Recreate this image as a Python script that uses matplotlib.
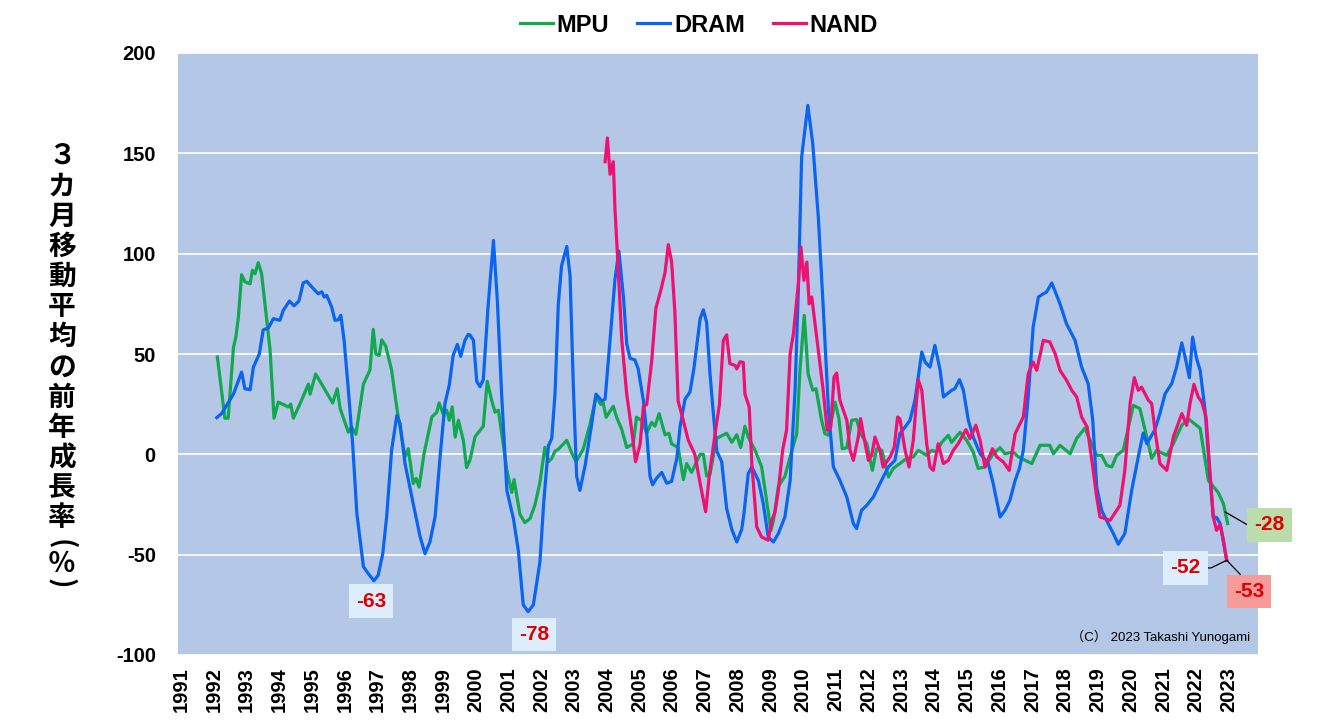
import matplotlib
matplotlib.use("Agg")
import matplotlib.pyplot as plt

# ---- data ----
years = list(range(1991, 2024))

mpu_year = [1992.11, 1992.34, 1992.44, 1992.60, 1992.68, 1992.75, 1992.85, 1992.95, 1993.11, 1993.18,
            1993.26, 1993.36, 1993.46, 1993.72, 1993.84, 1993.97, 1994.28, 1994.35, 1994.43, 1994.63,
            1994.89, 1994.94, 1995.11, 1995.35, 1995.63, 1995.77, 1995.86, 1996.11, 1996.21, 1996.34,
            1996.57, 1996.77, 1996.87, 1996.95, 1997.05, 1997.13, 1997.25, 1997.43, 1997.60, 1997.84,
            1997.94, 1998.09, 1998.18, 1998.27, 1998.42, 1998.66, 1998.81, 1998.88, 1999.01, 1999.11,
            1999.19, 1999.28, 1999.37, 1999.47, 1999.62, 1999.72, 1999.82, 1999.98, 2000.23, 2000.35,
            2000.49, 2000.59, 2000.69, 2000.84, 2000.95, 2001.10, 2001.17, 2001.35, 2001.50, 2001.66,
            2001.81, 2001.96, 2002.11, 2002.22, 2002.32, 2002.42, 2002.52, 2002.78, 2002.93, 2003.06,
            2003.28, 2003.49, 2003.67, 2003.82, 2003.89, 2003.98, 2004.08, 2004.20, 2004.30, 2004.46,
            2004.61, 2004.81, 2004.91, 2005.07, 2005.22, 2005.37, 2005.47, 2005.60, 2005.78, 2005.90,
            2005.98, 2006.18, 2006.34, 2006.44, 2006.59, 2006.85, 2006.95, 2007.05, 2007.15, 2007.36,
            2007.66, 2007.82, 2007.97, 2008.09, 2008.22, 2008.32, 2008.53, 2008.73, 2008.88, 2009.01,
            2009.09, 2009.24, 2009.44, 2009.60, 2009.80, 2009.90, 2010.03, 2010.15, 2010.29, 2010.39,
            2010.56, 2010.66, 2010.77, 2010.97, 2011.09, 2011.19, 2011.33, 2011.48, 2011.63, 2011.75,
            2011.94, 2012.11, 2012.24, 2012.40, 2012.60, 2012.75, 2012.95, 2013.16, 2013.36, 2013.51,
            2013.77, 2013.92, 2014.07, 2014.23, 2014.43, 2014.53, 2014.79, 2014.99, 2015.19, 2015.34,
            2015.55, 2015.80, 2016.01, 2016.16, 2016.41, 2016.57, 2016.98, 2017.23, 2017.53, 2017.64,
            2017.84, 2018.15, 2018.35, 2018.60, 2018.96, 2019.11, 2019.27, 2019.42, 2019.57, 2019.77,
            2020.08, 2020.28, 2020.44, 2020.64, 2020.79, 2021.10, 2021.30, 2021.56, 2021.76, 2021.81,
            2022.12, 2022.37, 2022.67, 2022.83, 2022.96]
mpu_val = [48.5, 18, 18, 53, 59, 68, 89.5, 86, 85, 91.7,
           90, 95.5, 90, 52, 18, 26, 23.6, 25, 18, 25,
           35, 30, 40, 33.5, 25.6, 32.7, 22.8, 11, 13.6, 10,
           35, 42, 62.3, 50, 49.3, 57, 54, 42, 22, -1.3,
           2.8, -14.6, -12, -16.3, 0.3, 18.6, 21, 25.6, 20, 22,
           17, 23.6, 8.6, 17, 7, -6.6, -3, 8.8, 14, 36.4,
           26.6, 21, 22, 5, -8, -19, -12.6, -30, -34, -32,
           -25, -14, 3.5, -3.7, -2, 1.6, 2.5, 7, 0.7, -3.7,
           2.5, 15, 28.7, 24.8, 25.7, 18.5, 21, 24, 18.5, 12.3,
           3.4, 5.2, 18.5, 16.7, 10.5, 16, 14, 20.3, 9.7, 10.5,
           5.2, 3.4, -12.6, -4.6, -9, 0, 0, -10.8, -10, 8,
           10.5, 6, 9.8, 3.4, 14, 8.6, 2, -6.3, -23, -38,
           -33, -16, -11, -1.3, 10.3, 42, 69.3, 40, 32, 32.7,
           17, 10.3, 9.5, 26, 17.8, 2.8, 3.3, 17, 17.3, 10.3,
           5.3, -8, 2.8, 2, -11.3, -7, -4.6, -2, -1.3, 2,
           -0.5, 2, 1.2, 6, 9.5, 6, 11, 7, 1.2, -7,
           -6.3, 0.3, 3.3, 0.3, 1.2, -1.3, -4.6, 4.5, 4.5, 0.3,
           4.5, 0.3, 8, 13, -0.5, -0.5, -5.5, -6.3, -0.5, 2,
           24.4, 22.8, 12, -2, 2, -0.5, 5.3, 14.5, 17.8, 17,
           13, -13, -19, -24.6, -34.5]

dram_year = [1992.09, 1992.24, 1992.60, 1992.85, 1992.95, 1993.11, 1993.21, 1993.39, 1993.51, 1993.67,
             1993.82, 1994.02, 1994.12, 1994.31, 1994.45, 1994.60, 1994.73, 1994.84, 1995.04, 1995.19,
             1995.30, 1995.37, 1995.45, 1995.60, 1995.70, 1995.80, 1995.88, 1995.98, 1996.11, 1996.24,
             1996.37, 1996.57, 1996.72, 1996.89, 1997.02, 1997.16, 1997.28, 1997.43, 1997.59, 1997.69,
             1997.84, 1998.09, 1998.30, 1998.45, 1998.60, 1998.76, 1998.91, 1999.06, 1999.19, 1999.31,
             1999.44, 1999.54, 1999.67, 1999.77, 1999.82, 1999.93, 2000.03, 2000.13, 2000.23, 2000.38,
             2000.54, 2000.66, 2000.79, 2000.95, 2001.15, 2001.30, 2001.45, 2001.60, 2001.76, 2001.96,
             2002.08, 2002.22, 2002.32, 2002.42, 2002.52, 2002.62, 2002.78, 2002.88, 2002.98, 2003.08,
             2003.18, 2003.34, 2003.54, 2003.67, 2003.85, 2003.95, 2004.10, 2004.25, 2004.37, 2004.51,
             2004.61, 2004.71, 2004.86, 2004.96, 2005.12, 2005.22, 2005.32, 2005.40, 2005.53, 2005.68,
             2005.83, 2005.98, 2006.14, 2006.24, 2006.39, 2006.54, 2006.66, 2006.85, 2006.95, 2007.05,
             2007.15, 2007.25, 2007.36, 2007.51, 2007.66, 2007.82, 2007.97, 2008.12, 2008.19, 2008.32,
             2008.43, 2008.63, 2008.78, 2008.93, 2009.09, 2009.24, 2009.44, 2009.60, 2009.75, 2009.85,
             2009.95, 2010.14, 2010.29, 2010.46, 2010.61, 2010.77, 2010.92, 2011.12, 2011.33, 2011.53,
             2011.63, 2011.78, 2011.94, 2012.14, 2012.34, 2012.60, 2012.80, 2012.95, 2013.11, 2013.26,
             2013.41, 2013.62, 2013.72, 2013.87, 2014.02, 2014.18, 2014.28, 2014.53, 2014.63, 2014.77,
             2014.89, 2015.04, 2015.19, 2015.40, 2015.65, 2015.80, 2016.01, 2016.16, 2016.31, 2016.47,
             2016.60, 2016.72, 2016.87, 2017.02, 2017.18, 2017.33, 2017.43, 2017.59, 2017.84, 2018.04,
             2018.30, 2018.50, 2018.70, 2018.84, 2018.96, 2019.11, 2019.31, 2019.47, 2019.62, 2019.82,
             2020.03, 2020.23, 2020.38, 2020.49, 2020.74, 2020.89, 2021.05, 2021.25, 2021.40, 2021.56,
             2021.66, 2021.79, 2021.89, 2022.01, 2022.12, 2022.27, 2022.42, 2022.52, 2022.62, 2022.73,
             2022.93]
dram_val = [18.3, 20.3, 30, 41, 32.7, 32.2, 43.5, 50, 62, 63,
            67.6, 66.8, 71.7, 76.4, 74, 76.4, 85.4, 86.2, 82.6, 80,
            81, 78.4, 79.2, 73.4, 66.8, 67, 69.3, 56.8, 32, 5.3,
            -29.6, -56, -59.5, -63, -60.3, -49.5, -31, 2, 19.4, 15.3,
            -4.6, -24.6, -41, -49.5, -43.7, -31, -1.3, 25.3, 34.4, 49.3,
            54.8, 48.8, 56.8, 59.8, 59.5, 56.8, 36.4, 33.7, 37.2, 74.6,
            106.6, 76.4, 30, -18, -32, -48, -75, -78.4, -75, -53.5,
            -23, 4.3, 7.9, 30, 74.6, 94, 103.6, 88.8, 33.7, -10.8,
            -18, -5.5, 15, 30, 26.6, 27.5, 56.8, 87, 101.3, 78.2,
            55, 47.9, 47, 42.6, 26.6, 10.5, -10.8, -15.2, -11.7, -9,
            -14.4, -13.5, -2, 13.9, 27.5, 31, 42.6, 67.5, 72, 65.7,
            40.8, 21.2, 1.6, -3.7, -26.9, -37.5, -43.7, -37.5, -29.5, -9.6,
            -6.3, -13, -24.6, -41.2, -43.7, -39.5, -31.2, -13, 32, 81.7,
            148, 173.9, 154.8, 118.2, 73.4, 22, -6.3, -13, -21.3, -34.5,
            -37, -27.9, -25.4, -21.3, -14.6, -6.3, -3, 10.3, 13.6, 17,
            26.9, 51, 46, 43.5, 54.3, 41.9, 28.6, 31.9, 32.7, 37.2,
            31.9, 17, 8.6, 0.3, -4.6, -14.6, -31.2, -27.9, -22.9, -13,
            -7.1, 2, 28.6, 63.4, 78.4, 80, 80.9, 85.4, 75, 65,
            56.8, 43.5, 35.2, 17, -16.3, -27.9, -34.5, -39.5, -44.8, -39.5,
            -17.9, -1.3, 10.6, 5.3, 12.3, 20.3, 30.2, 35.2, 43.5, 55.5,
            48.5, 38.2, 58.4, 47.7, 41.9, 21.9, -11.3, -31.2, -31.5, -34.5,
            -52.8]

nand_year = [2003.95, 2004.02, 2004.10, 2004.20, 2004.25, 2004.35, 2004.46, 2004.61, 2004.76, 2004.88,
             2005.02, 2005.12, 2005.22, 2005.37, 2005.50, 2005.65, 2005.78, 2005.88, 2005.98, 2006.08,
             2006.18, 2006.34, 2006.49, 2006.69, 2006.85, 2007.02, 2007.13, 2007.31, 2007.44, 2007.56,
             2007.66, 2007.76, 2007.92, 2007.97, 2008.07, 2008.17, 2008.22, 2008.35, 2008.43, 2008.58,
             2008.73, 2008.93, 2009.04, 2009.14, 2009.24, 2009.37, 2009.49, 2009.60, 2009.70, 2009.85,
             2009.93, 2010.02, 2010.11, 2010.18, 2010.26, 2010.36, 2010.46, 2010.61, 2010.73, 2010.84,
             2010.94, 2011.02, 2011.12, 2011.33, 2011.43, 2011.53, 2011.68, 2011.75, 2011.89, 2011.99,
             2012.09, 2012.19, 2012.34, 2012.44, 2012.65, 2012.78, 2012.88, 2012.95, 2013.11, 2013.23,
             2013.36, 2013.51, 2013.62, 2013.77, 2013.87, 2013.97, 2014.12, 2014.28, 2014.43, 2014.58,
             2014.73, 2014.97, 2015.09, 2015.27, 2015.40, 2015.55, 2015.78, 2015.91, 2016.11, 2016.29,
             2016.47, 2016.72, 2016.87, 2017.02, 2017.13, 2017.33, 2017.53, 2017.69, 2017.84, 2018.04,
             2018.20, 2018.35, 2018.50, 2018.67, 2018.84, 2018.96, 2019.06, 2019.37, 2019.67, 2019.82,
             2019.98, 2020.11, 2020.23, 2020.33, 2020.54, 2020.64, 2020.74, 2020.89, 2021.10, 2021.30,
             2021.56, 2021.71, 2021.81, 2021.93, 2022.06, 2022.17, 2022.30, 2022.52, 2022.62, 2022.73,
             2022.83, 2022.93]
nand_val = [145.8, 157.7, 139.6, 145.8, 122.6, 92.4, 56.8, 30, 12.3, -3.7,
            5.2, 23.9, 24.8, 46.1, 72.8, 81.7, 90.6, 104.5, 96, 71,
            26.6, 16.7, 7, 0, -14.4, -28.6, -10.8, 10.5, 24.8, 56.8,
            59.5, 45.2, 44.3, 42.6, 46.1, 45.8, 30, 23.6, -4.6, -36.2,
            -41.2, -42.8, -32.9, -28.7, -17.9, 2, 12, 50.2, 60.1, 85,
            103.3, 86.7, 95.8, 75, 78.4, 65.1, 51.8, 31.9, 12, 13.6,
            38.5, 40.5, 26.9, 17, 2, -3, 8.6, 17.8, 5.3, -3,
            -0.5, 8.6, 2, -6.3, -1.3, 3.6, 18.6, 17.8, 2, -6.3,
            7, 37.2, 31.9, 5.3, -6.3, -8, 5.3, -4.6, -3, 2,
            5.3, 12.3, 7.8, 14.5, 7, -6.3, 2.8, -1.3, -3.8, -8,
            10.3, 18.6, 40.2, 46, 41.9, 56.8, 56, 50.2, 41.9, 36.9,
            31.9, 28.6, 18.6, 13.6, -6.3, -21.3, -31.2, -32.9, -25.4, -8,
            25.3, 38.2, 31.9, 33.5, 26.9, 25.3, 12, -4.6, -8, 8.6,
            20.3, 14.5, 25.3, 34.9, 28.6, 26, 18.6, -31.2, -37.9, -34.9,
            -42.8, -52.8]

# callouts: text, point it refers to, where the box sits
callout_text = ["-63", "-78", "-52", "-53", "-28"]
callout_point = [(1996.89, -63), (2001.60, -78.4), (2022.93, -52.8), (2022.93, -52.8), (2022.88, -28.7)]
callout_pos = [(1996.80, -73.2), (2001.78, -89.7), (2021.67, -56.6), (2023.61, -68.3), (2024.24, -35.2)]
callout_fc = ["#DCEEFB", "#DCEEFB", "#DCEEFB", "#F79A9A", "#BCDDAA"]

ylabel_chars = list("３カ月移動平均の前年成長率") + ["(", "％", ")"]

GREEN = "#12A84E"
BLUE = "#0A64F0"
PINK = "#EE1170"

plt.rcParams["font.family"] = ["Liberation Sans", "Noto Sans CJK JP"]
plt.rcParams["axes.unicode_minus"] = False

W, H = 1320, 725
fig = plt.figure(figsize=(W / 100, H / 100), dpi=100)
ax = fig.add_axes([178 / W, 70 / H, 1080 / W, 602 / H])
ax.set_facecolor("#B4C7E7")
for s in ax.spines.values():
    s.set_visible(False)

ax.plot(mpu_year, mpu_val, color=GREEN, lw=2.3, label="MPU", zorder=3)
ax.plot(dram_year, dram_val, color=BLUE, lw=2.3, label="DRAM", zorder=4)
ax.plot(nand_year, nand_val, color=PINK, lw=2.3, label="NAND", zorder=5)

ax.set_xlim(1990.908, 2023.886)
ax.set_ylim(-100, 200)
ax.set_yticks(range(-100, 201, 50))
ax.set_xticks(years)
ax.set_xticklabels([str(y) for y in years], rotation=90)
ax.yaxis.grid(True, color="white", lw=1.2)
ax.set_axisbelow(True)
ax.tick_params(axis="both", length=0, labelsize=14.5)
ax.tick_params(axis="y", pad=16)
ax.tick_params(axis="x", pad=9)
for lab in ax.get_xticklabels() + ax.get_yticklabels():
    lab.set_fontweight("bold")

# y axis title, written vertically one character at a time
char_y = [156 + i * 30.2 for i in range(13)] + [544, 564, 583]
for ch, yy in zip(ylabel_chars, char_y):
    rot = -90 if ch in "()" else 0
    fig.text(62 / W, 1 - yy / H, ch, ha="center", va="center", rotation=rot,
             rotation_mode="anchor", fontsize=20, fontweight="bold",
             family=["Noto Sans CJK JP", "DejaVu Sans"])

# callout boxes
for i, txt in enumerate(callout_text):
    arrow = None
    if txt == "-52":
        arrow = dict(arrowstyle="-", color="black", lw=0.9, relpos=(1, 0.5),
                     connectionstyle="angle,angleA=0,angleB=26,rad=0", shrinkA=0, shrinkB=0)
    elif txt == "-53":
        arrow = dict(arrowstyle="-", color="black", lw=0.9, relpos=(0.45, 1),
                     connectionstyle="arc3,rad=0", shrinkA=0, shrinkB=0)
    elif txt == "-28":
        arrow = dict(arrowstyle="-", color="black", lw=0.9, relpos=(0, 0.5),
                     connectionstyle="angle,angleA=180,angleB=-30,rad=0", shrinkA=0, shrinkB=0)
    ax.annotate(txt, xy=callout_point[i], xytext=callout_pos[i], textcoords="data",
                ha="center", va="center", fontsize=15, fontweight="bold",
                color="#E00000", arrowprops=arrow, annotation_clip=False, zorder=6,
                bbox=dict(boxstyle="square,pad=0.35", fc=callout_fc[i], ec="none"))

ax.text(0.9926, 0.03, "（C） 2023 Takashi Yunogami", transform=ax.transAxes,
        ha="right", va="center", fontsize=9.5, family=["Liberation Sans", "Noto Sans CJK JP"])

handles, labels = ax.get_legend_handles_labels()
fig.legend(handles, labels, loc="center", bbox_to_anchor=(699 / W, 1 - 25 / H), ncol=3,
           frameon=False, prop={"family": "Liberation Sans", "weight": "bold", "size": 17},
           handlelength=1.4, handletextpad=0.15, columnspacing=1.2)

fig.savefig("out.png", dpi=100)
